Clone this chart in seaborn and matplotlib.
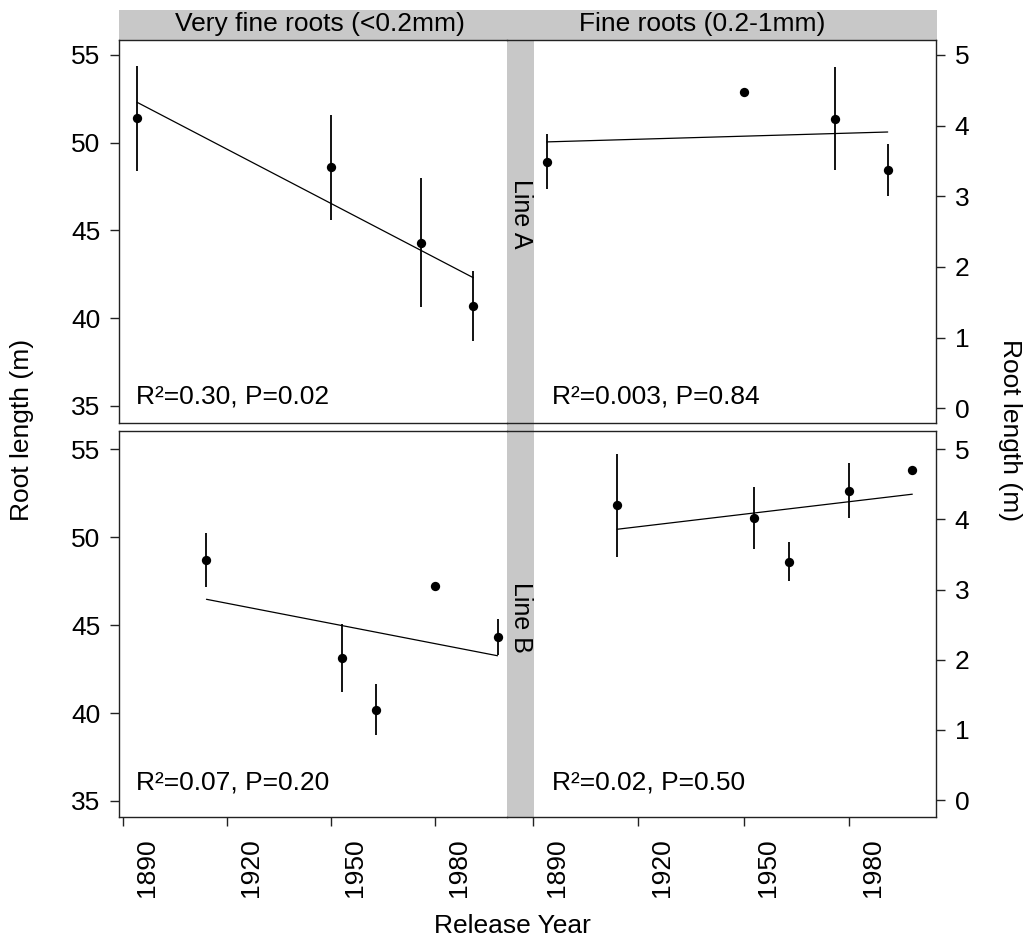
import numpy as np
import pandas as pd
import matplotlib
matplotlib.use("Agg")
import matplotlib.pyplot as plt
import matplotlib.transforms as mtransforms
from matplotlib.patches import Rectangle
import seaborn as sns

# ---------------- data ----------------
col_titles = ["Very fine roots (<0.2mm)", "Fine roots (0.2-1mm)"]
row_titles = ["Line A", "Line B"]

years_A = [1894, 1950, 1976, 1991]
vfine_A = [51.4, 48.6, 44.3, 40.7]
vfine_A_err = [3.0, 3.0, 3.7, 2.0]
fine_A = [3.49, 4.47, 4.10, 3.37]
fine_A_err = [0.39, 0.0, 0.73, 0.37]

years_B = [1914, 1953, 1963, 1980, 1998]
vfine_B = [48.7, 43.15, 40.2, 47.2, 44.35]
vfine_B_err = [1.55, 1.93, 1.47, 0.15, 1.02]
fine_B = [4.20, 4.02, 3.40, 4.41, 4.71]
fine_B_err = [0.74, 0.44, 0.28, 0.39, 0.0]

# regression line values at first and last year
fit_vfine_A = [52.3, 42.3]
fit_fine_A = [3.77, 3.91]
fit_vfine_B = [46.47, 43.26]
fit_fine_B = [3.86, 4.36]

stats = [["R²=0.30, P=0.02", "R²=0.003, P=0.84"],
         ["R²=0.07, P=0.20", "R²=0.02, P=0.50"]]

left_ticks = [35, 40, 45, 50, 55]
right_ticks = [0, 1, 2, 3, 4, 5]
x_ticks = [1890, 1920, 1950, 1980]

# ---------------- style ----------------
sns.set_theme(style="white")
plt.rcParams["font.family"] = ["Liberation Sans", "DejaVu Sans"]
FS = 19

W, H = 1027, 943
fig = plt.figure(figsize=(W / 100, H / 100), dpi=100)
fig.patch.set_facecolor("white")


def fx(x):
    return x / W


def fy(y):
    return 1 - y / H


def add_ax(x0, x1, y0, y1):
    return fig.add_axes([fx(x0), fy(y1), fx(x1) - fx(x0), (y1 - y0) / H])


GRAY = "#c8c8c8"
# strips (behind axes)
fig.patches.append(Rectangle((fx(119), fy(40)), fx(937) - fx(119), 30 / H,
                             transform=fig.transFigure, facecolor=GRAY,
                             edgecolor="none", zorder=-5))
fig.patches.append(Rectangle((fx(506.7), fy(817)), fx(534.3) - fx(506.7), 777 / H,
                             transform=fig.transFigure, facecolor=GRAY,
                             edgecolor="none", zorder=-5))

panels = [
    (119, 506.7, 40, 423, (1888.76, 2000.65), (34.013, 55.855), years_A, vfine_A, vfine_A_err, fit_vfine_A, "left", 0, 0),
    (506.7, 936, 40, 423, (1882.6, 2004.74), (-0.208, 5.212), years_A, fine_A, fine_A_err, fit_fine_A, "right", 0, 1),
    (119, 506.7, 431, 817, (1888.76, 2000.65), (34.09, 56.04), years_B, vfine_B, vfine_B_err, fit_vfine_B, "left", 1, 0),
    (506.7, 936, 431, 817, (1882.6, 2004.74), (-0.242, 5.261), years_B, fine_B, fine_B_err, fit_fine_B, "right", 1, 1),
]

shift = mtransforms.ScaledTranslation(0.24, 0, fig.dpi_scale_trans)

for (x0, x1, y0, y1, xl, yl, yrs, vals, errs, fit, side, r, c) in panels:
    ax = add_ax(x0, x1, y0, y1)
    ax.set_facecolor("none")
    df = pd.DataFrame({"year": yrs, "val": vals, "err": errs})
    ax.errorbar(df["year"], df["val"], yerr=df["err"], fmt="none",
                ecolor="black", elinewidth=1.3, capsize=0)
    sns.scatterplot(data=df, x="year", y="val", ax=ax, color="black",
                    marker="o", s=45, edgecolor="black", linewidth=0, zorder=3)
    fit_df = pd.DataFrame({"year": [yrs[0], yrs[-1]], "val": fit})
    sns.lineplot(data=fit_df, x="year", y="val", ax=ax, color="black",
                 linewidth=0.9)
    ax.set_xlim(*xl)
    ax.set_ylim(*yl)
    ax.set_xlabel("")
    ax.set_ylabel("")
    for s in ax.spines.values():
        s.set_color("#222222")
        s.set_linewidth(1.0)
    if side == "left":
        ax.spines["right"].set_visible(False)
        ax.set_yticks(left_ticks)
        ax.yaxis.tick_left()
    else:
        ax.spines["left"].set_visible(False)
        ax.set_yticks(right_ticks)
        ax.yaxis.tick_right()
    ax.tick_params(axis="y", direction="out", length=6.5, width=1.0,
                   color="#222222", labelsize=FS, pad=7, labelcolor="black")
    if r == 1:
        ax.set_xticks(x_ticks)
        ax.set_xticklabels([str(t) for t in x_ticks], rotation=90)
        ax.tick_params(axis="x", direction="out", length=6.5, width=1.0,
                       color="#222222", labelsize=FS, pad=9, labelcolor="black",
                       bottom=True)
        for lab in ax.get_xticklabels():
            lab.set_transform(lab.get_transform() + shift)
    else:
        ax.set_xticks([])
    ax.text(0.045 if side == "left" else 0.105, 0.07 if r == 0 else 0.09,
            stats[r][c], transform=ax.transAxes, fontsize=FS, color="black",
            ha="left", va="center")

# strip labels
fig.text(fx(320), fy(24), col_titles[0], fontsize=FS, ha="center", va="center",
         color="black")
fig.text(fx(702), fy(24), col_titles[1], fontsize=FS, ha="center", va="center",
         color="black")
fig.text(fx(521), fy(214), row_titles[0], fontsize=FS - 1, ha="center",
         va="center", rotation=-90, color="black")
fig.text(fx(521), fy(617), row_titles[1], fontsize=FS - 1, ha="center",
         va="center", rotation=-90, color="black")

# axis labels
fig.text(fx(22), fy(430), "Root length (m)", fontsize=FS, ha="center",
         va="center", rotation=90, color="black")
fig.text(fx(1010), fy(430), "Root length (m)", fontsize=FS, ha="center",
         va="center", rotation=-90, color="black")
fig.text(fx(512), fy(926), "Release Year", fontsize=FS, ha="center",
         va="center", color="black")

fig.savefig("out.png", dpi=100)
